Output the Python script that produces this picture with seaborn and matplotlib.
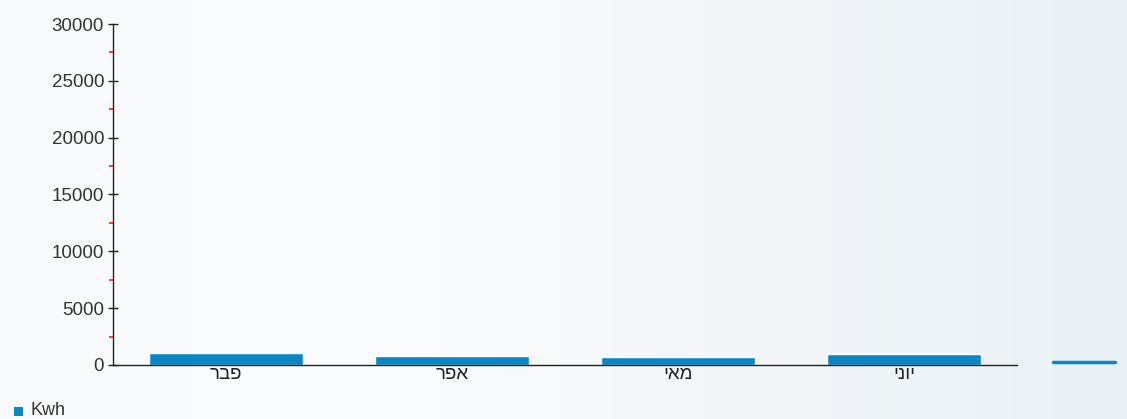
import numpy as np
import pandas as pd
import matplotlib
matplotlib.use("Agg")
import matplotlib.pyplot as plt
import seaborn as sns
from matplotlib.lines import Line2D
from matplotlib.patches import Rectangle
from matplotlib.colors import LinearSegmentedColormap

# ---- data ----
months = ["פבר", "אפר", "מאי", "יוני"]
kwh = [1030, 790, 680, 1000]
series_name = "Kwh"
y_ticks = [0, 5000, 10000, 15000, 20000, 25000, 30000]

sns.set_theme(style="white")
plt.rcParams['font.family'] = ['Liberation Sans', 'DejaVu Sans']

fig = plt.figure(figsize=(11.27, 4.19), dpi=100)
fig.patch.set_facecolor("#f4f7fa")

# background gradient
bg = fig.add_axes([0, 0, 1, 1], zorder=-10)
grad = np.linspace(0, 1, 256)[None, :]
cmap = LinearSegmentedColormap.from_list("bg", ["#f8fafb", "#fbfcfd", "#f3f6f9", "#e9f1f6"])
bg.imshow(grad, aspect="auto", cmap=cmap, extent=[0, 1, 0, 1])
bg.axis("off")

ax = fig.add_axes([0.1003, 0.1289, 0.802, 0.8138])
ax.patch.set_alpha(0)

df = pd.DataFrame({"month": [m[::-1] for m in months], "kwh": kwh})
sns.barplot(data=df, x="month", y="kwh", color="#0a86c4", saturation=1,
            width=0.68, ax=ax, zorder=2)

ax.set_xlim(-0.5, 3.5)
ax.set_ylim(0, 30000)
ax.set_yticks(y_ticks)
ax.set_yticklabels([str(v) for v in y_ticks])
ax.set_yticks([v + 2500 for v in y_ticks[:-1]], minor=True)
ax.set_xlabel("")
ax.set_ylabel("")

for s in ["top", "right"]:
    ax.spines[s].set_visible(False)
for s in ["left", "bottom"]:
    ax.spines[s].set_color("#222222")
    ax.spines[s].set_linewidth(1.0)

ax.tick_params(axis="y", which="major", direction="inout", length=7, width=1,
               color="#222222", labelsize=13.5, labelcolor="#333333", pad=3, left=True)
ax.tick_params(axis="y", which="minor", direction="out", length=3, width=1.2,
               color="#ff2020", left=True)
ax.tick_params(axis="x", which="major", direction="in", length=4, width=1,
               color="#222222", labelsize=13.5, labelcolor="#222222", pad=1, bottom=True)

# legend at bottom-left
fig.add_artist(Rectangle((14 / 1127, 1 - 416 / 419), 9 / 1127, 9 / 419,
                         transform=fig.transFigure, facecolor="#0a86c4", edgecolor="none"))
fig.text(30 / 1127, 1 - 410 / 419, series_name, fontsize=13, color="#333333",
         va="center", ha="left")

# stray line segment at right edge
fig.add_artist(Line2D([1053 / 1127, 1115 / 1127], [1 - 362 / 419, 1 - 362 / 419],
                      transform=fig.transFigure, color="#0a86c4", linewidth=2.5))

fig.savefig("out.png", dpi=100, facecolor=fig.get_facecolor())
